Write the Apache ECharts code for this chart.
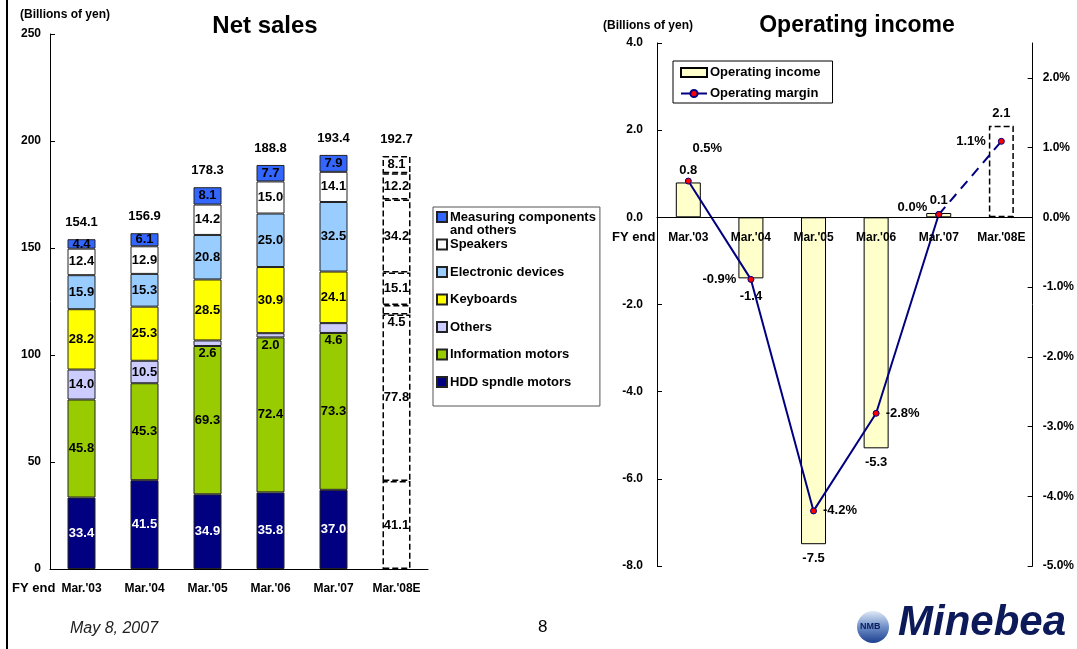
<!DOCTYPE html>
<html>
<head>
<meta charset="utf-8">
<title>Net sales / Operating income</title>
<script src="https://cdn.jsdelivr.net/npm/echarts@6/dist/echarts.min.js"></script>
<style>
    html, body { margin: 0; padding: 0; background: #fff; }
    #main { width: 1077px; height: 649px; }
</style>
</head>
<body>
<div id="main"></div>
<script>
// 数据
var categories = ["Mar.'03", "Mar.'04", "Mar.'05", "Mar.'06", "Mar.'07", "Mar.'08E"];
var hddMotors = [33.4, 41.5, 34.9, 35.8, 37.0, 41.1];
var infoMotors = [45.8, 45.3, 69.3, 72.4, 73.3, 77.8];
var others = [14.0, 10.5, 2.6, 2.0, 4.6, 4.5];
var keyboards = [28.2, 25.3, 28.5, 30.9, 24.1, 15.1];
var electronic = [15.9, 15.3, 20.8, 25.0, 32.5, 34.2];
var speakers = [12.4, 12.9, 14.2, 15.0, 14.1, 12.2];
var measuring = [4.4, 6.1, 8.1, 7.7, 7.9, 8.1];
var salesTotal = [154.1, 156.9, 178.3, 188.8, 193.4, 192.7];
var opIncome = [0.8, -1.4, -7.5, -5.3, 0.1, 2.1];
var opMargin = [0.52, -0.89, -4.21, -2.81, 0.04, 1.09];

var FONT = "'Liberation Sans', Arial, sans-serif";
var estIdx = 5; // Mar.'08E is a forecast, drawn dashed
var MEASURING = 'Measuring components and others';

// 公用的
function fmt1(v) { return Number(v).toFixed(1); }

var dashedItem = { color: '#fff', borderColor: '#000', borderWidth: 1.5, borderType: 'dashed' };

function salesSeries(name, values, color, opts) {
    opts = opts || {};
    return {
        name: name,
        type: 'bar',
        stack: 'sales',
        xAxisIndex: 0, yAxisIndex: 0,
        barWidth: 28,
        itemStyle: { color: color, borderColor: '#222', borderWidth: 1 },
        label: {
            show: true,
            position: 'inside',
            fontFamily: FONT, fontSize: 13, fontWeight: 'bold',
            color: opts.labelColor || '#000',
            formatter: function (p) { return fmt1(p.value); }
        },
        data: values.map(function (v, i) {
            var d = { value: v };
            if (i === estIdx) {
                d.itemStyle = dashedItem;
                d.label = { color: '#000' };
            }
            if (opts.below && opts.below.indexOf(i) >= 0) {
                d.label = Object.assign({}, d.label, { position: 'bottom', distance: 1 });
            }
            return d;
        })
    };
}

// 右图折线标签位置
var marginLabelPos = [
    { position: 'top', offset: [19, -18] },
    { position: 'left', distance: 11 },
    { position: 'right', distance: 6 },
    { position: 'right', distance: 6 },
    { position: 'left', distance: 8, offset: [0, -7] },
    { position: 'left', distance: 12 }
];

function marginLabel(i) {
    return Object.assign({
        show: true, fontFamily: FONT, fontSize: 13, fontWeight: 'bold', color: '#000',
        formatter: function (p) { return fmt1(p.value) + '%'; }
    }, marginLabelPos[i]);
}

var solidMargin = opMargin.map(function (v, i) {
    if (i >= estIdx) return null;
    return { value: v, label: marginLabel(i) };
});
var dashMargin = opMargin.map(function (v, i) {
    if (i < estIdx - 1) return null;
    return { value: v, label: i === estIdx ? marginLabel(i) : { show: false } };
});

var axisText = { fontFamily: FONT, fontSize: 12, fontWeight: 'bold', color: '#000' };
var lineBlack = { show: true, lineStyle: { color: '#000', width: 1 } };

// 右图: x 轴放在 0 的位置
var rightGridH = 523;
var incomeMin = -8, incomeMax = 4;
var zeroOffset = -rightGridH * (0 - incomeMin) / (incomeMax - incomeMin);

var option = {
    animation: false,
    backgroundColor: '#fff',
    textStyle: { fontFamily: FONT },
    title: [
        { text: 'Net sales', left: 260, top: 9, textAlign: 'center',
          textStyle: { fontFamily: FONT, fontSize: 24, fontWeight: 'bold', color: '#000' } },
        { text: 'Operating income', left: 852, top: 9, textAlign: 'center',
          textStyle: { fontFamily: FONT, fontSize: 23, fontWeight: 'bold', color: '#000' } }
    ],
    legend: [
        {
            orient: 'vertical', left: 433, top: 207,
            padding: [3, 4, 17, 3], itemGap: 13.5,
            itemWidth: 10, itemHeight: 10, icon: 'rect',
            backgroundColor: '#fff', borderColor: '#555', borderWidth: 1,
            // 第二行 "and others" 用 graphic 画
            formatter: function (name) {
                return name === MEASURING ? 'Measuring components' : name;
            },
            textStyle: { fontFamily: FONT, fontSize: 13, fontWeight: 'bold', color: '#000',
                         lineHeight: 14, padding: [0, 0, 0, -2] },
            data: [MEASURING, 'Speakers', 'Electronic devices',
                   'Keyboards', 'Others', 'Information motors', 'HDD spndle motors']
        },
        {
            orient: 'vertical', left: 673, top: 61,
            padding: [5, 12, 3, 7], itemGap: 8,
            itemWidth: 26, itemHeight: 9,
            backgroundColor: '#fff', borderColor: '#000', borderWidth: 1,
            textStyle: { fontFamily: FONT, fontSize: 13, fontWeight: 'bold', color: '#000', padding: [0, 0, 0, -2] },
            data: [{ name: 'Operating income', icon: 'rect' }, 'Operating margin']
        }
    ],
    grid: [
        { left: 50, top: 34, width: 378, height: 535 },
        { left: 657, top: 43, width: 376, height: rightGridH }
    ],
    xAxis: [
        {
            type: 'category', gridIndex: 0, data: categories,
            axisLine: lineBlack,
            axisTick: { inside: true, length: 5, lineStyle: { color: '#000' } },
            axisLabel: Object.assign({ margin: 14, interval: 0 }, axisText)
        },
        {
            type: 'category', gridIndex: 1, data: categories, z: 20,
            position: 'bottom', offset: zeroOffset,
            axisLine: { show: true, onZero: false, lineStyle: { color: '#000', width: 1 } },
            axisTick: { inside: true, length: 5, lineStyle: { color: '#000' } },
            axisLabel: Object.assign({ margin: 14, interval: 0 }, axisText)
        }
    ],
    yAxis: [
        {
            type: 'value', gridIndex: 0, min: 0, max: 250, interval: 50,
            axisLine: lineBlack,
            axisTick: { show: true, inside: true, length: 5, lineStyle: { color: '#000' } },
            splitLine: { show: false },
            axisLabel: Object.assign({ margin: 9 }, axisText)
        },
        {
            type: 'value', gridIndex: 1, min: incomeMin, max: incomeMax, interval: 2,
            axisLine: lineBlack,
            axisTick: { show: true, inside: true, length: 5, lineStyle: { color: '#000' } },
            splitLine: { show: false },
            axisLabel: Object.assign({ margin: 14, formatter: function (v) { return fmt1(v); } }, axisText)
        },
        {
            type: 'value', gridIndex: 1, position: 'right', min: -5, max: 2.5, interval: 1,
            axisLine: lineBlack,
            axisTick: { show: true, inside: true, length: 5, lineStyle: { color: '#000' } },
            splitLine: { show: false },
            axisLabel: Object.assign({ margin: 10, showMaxLabel: false,
                formatter: function (v) { return fmt1(v) + '%'; } }, axisText)
        }
    ],
    series: [
        salesSeries('HDD spndle motors', hddMotors, '#000080', { labelColor: '#fff' }),
        salesSeries('Information motors', infoMotors, '#99CC00'),
        salesSeries('Others', others, '#CCCCFF', { below: [2, 3, 4, 5] }),
        salesSeries('Keyboards', keyboards, '#FFFF00'),
        salesSeries('Electronic devices', electronic, '#99CCFF'),
        salesSeries('Speakers', speakers, '#FFFFFF'),
        salesSeries(MEASURING, measuring, '#3366FF'),
        {
            // 合计
            name: 'total', type: 'line', xAxisIndex: 0, yAxisIndex: 0,
            data: salesTotal, symbol: 'circle', symbolSize: 1,
            itemStyle: { color: 'rgba(0,0,0,0)' }, lineStyle: { width: 0 },
            label: { show: true, position: 'top', distance: 10,
                     fontFamily: FONT, fontSize: 13, fontWeight: 'bold', color: '#000',
                     formatter: function (p) { return fmt1(p.value); } },
            z: 5
        },
        {
            name: 'Operating income', type: 'bar', xAxisIndex: 1, yAxisIndex: 1,
            barWidth: 25,
            itemStyle: { color: '#FFFFCC', borderColor: '#000', borderWidth: 1 },
            label: { show: true, fontFamily: FONT, fontSize: 13, fontWeight: 'bold', color: '#000',
                     formatter: function (p) { return fmt1(p.value); } },
            data: opIncome.map(function (v, i) {
                var d = { value: v };
                d.label = v < 0 ? { position: 'bottom', distance: i === 1 ? 12 : 8 } : { position: 'top', distance: 6 };
                if (i === estIdx) d.itemStyle = dashedItem;
                return d;
            })
        },
        {
            name: 'Operating margin', type: 'line', xAxisIndex: 1, yAxisIndex: 2,
            data: solidMargin, symbol: 'circle', symbolSize: 6, connectNulls: false,
            lineStyle: { color: '#000080', width: 2 },
            itemStyle: { color: '#FF0000', borderColor: '#000080', borderWidth: 1 },
            z: 10
        },
        {
            name: 'Operating margin', type: 'line', xAxisIndex: 1, yAxisIndex: 2,
            data: dashMargin, symbol: 'circle', symbolSize: 6,
            lineStyle: { color: '#000080', width: 2, type: [10, 7] },
            itemStyle: { color: '#FF0000', borderColor: '#000080', borderWidth: 1 },
            z: 10
        }
    ],
    graphic: [
        { type: 'rect', shape: { x: 6, y: 0, width: 2, height: 649 }, style: { fill: '#000' } },
        { type: 'text', left: 20, top: 9, style: { text: '(Billions of yen)', font: 'bold 12px ' + FONT, fill: '#000' } },
        { type: 'text', left: 603, top: 20, style: { text: '(Billions of yen)', font: 'bold 12px ' + FONT, fill: '#000' } },
        { type: 'text', left: 12, top: 582, style: { text: 'FY end', font: 'bold 13px ' + FONT, fill: '#000' } },
        { type: 'text', left: 612, top: 231, style: { text: 'FY end', font: 'bold 13px ' + FONT, fill: '#000' } },
        { type: 'text', left: 450, top: 224, z: 100, style: { text: 'and others', font: 'bold 13px ' + FONT, fill: '#000' } },
        { type: 'text', left: 70, top: 621, style: { text: 'May 8, 2007', font: 'italic 16px ' + FONT, fill: '#222' } },
        { type: 'text', left: 538, top: 619, style: { text: '8', font: '17px ' + FONT, fill: '#000' } },
        // logo
        {
            type: 'circle', shape: { cx: 873, cy: 627, r: 16 },
            style: { fill: new echarts.graphic.LinearGradient(0, 0, 0, 1, [
                { offset: 0, color: '#dfe8f6' }, { offset: 0.5, color: '#6f8fc8' }, { offset: 1, color: '#1d3f8f' }
            ]) }
        },
        { type: 'text', left: 860, top: 622, style: { text: 'NMB', font: 'bold 9px ' + FONT, fill: '#0c1f5c' } },
        { type: 'text', left: 898, top: 602, style: { text: 'Minebea', font: 'italic bold 42px ' + FONT, fill: '#0d1a5a' } }
    ]
};

var myChart = echarts.init(document.getElementById('main'));
myChart.setOption(option);
</script>
</body>
</html>
